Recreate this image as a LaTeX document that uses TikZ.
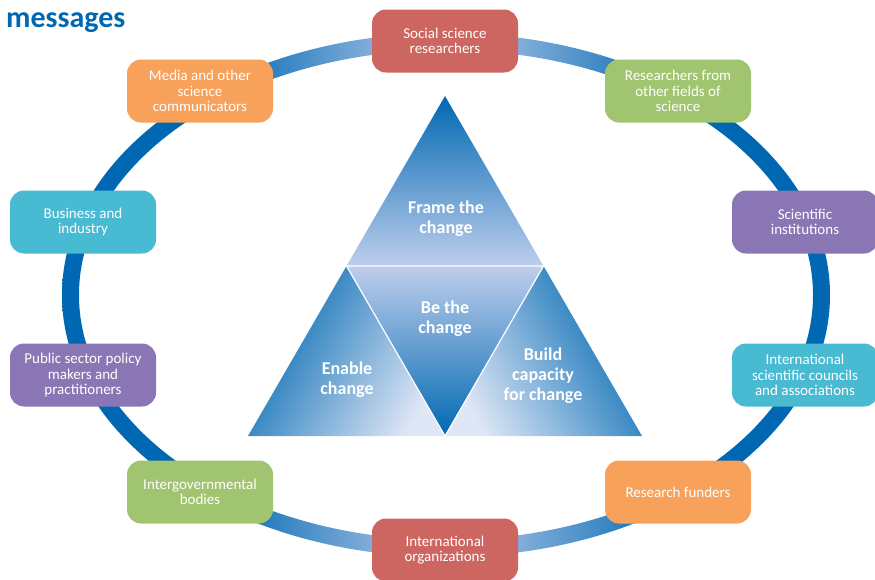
\documentclass[tikz,border=0pt]{standalone}
\usepackage{fontspec}
\setmainfont{Carlito}
\usetikzlibrary{positioning, calc}
\definecolor{ringBlue}{RGB}{0, 104, 178}
\definecolor{paleBlue}{RGB}{190, 206, 236}
\definecolor{boxRed}{RGB}{205, 101, 96}
\definecolor{boxGreen}{RGB}{160, 196, 112}
\definecolor{boxPurple}{RGB}{138, 118, 180}
\definecolor{boxCyan}{RGB}{72, 186, 210}
\definecolor{boxOrange}{RGB}{247, 161, 90}
% the path's box covers 25bp to 75bp of the shading
\pgfdeclarehorizontalshading{ringshade}{100bp}{color(0bp)=(ringBlue); color(35bp)=(ringBlue); color(50bp)=(paleBlue); color(65bp)=(ringBlue); color(100bp)=(ringBlue)}

\begin{document}
\begin{tikzpicture}[
            x=1pt, y=-1pt,
            % Stakeholder boxes round the ring
            group/.style={
                rectangle,
                rounded corners=14pt,
                minimum width=146pt,
                minimum height=63pt,
                inner sep=2pt,
                text=white,
                align=center,
                font=\fontsize{15}{15.5}\selectfont
            },
            % Labels inside the triangle
            trilabel/.style={
                text=white,
                align=center,
                font=\fontsize{18}{20}\selectfont\bfseries
            }
        ]
        \useasboundingbox (0,0) rectangle (875,579);

        % --- Title ---
        \node [anchor=base west, inner sep=0pt, text=ringBlue,
               font=\fontsize{30}{30}\selectfont\bfseries] (title) at (6,27) {messages};

        % --- Ring ---
        \shade [shading=ringshade, even odd rule]
            (446,295) ellipse [x radius=384, y radius=262]
            (446,295) ellipse [x radius=367, y radius=245];

        % --- Triangle ---
        \coordinate (apex) at (445,96);
        \coordinate (baseL) at (248,436);
        \coordinate (baseR) at (642,436);
        \coordinate (midL) at ($(apex)!0.5!(baseL)$);
        \coordinate (midR) at ($(apex)!0.5!(baseR)$);
        \coordinate (baseM) at ($(baseL)!0.5!(baseR)$);

        \shade [top color=ringBlue, bottom color=paleBlue] (apex) -- (midL) -- (midR) -- cycle;
        \shade [top color=paleBlue, bottom color=ringBlue] (midL) -- (midR) -- (baseM) -- cycle;
        \shade [top color=ringBlue, bottom color=paleBlue!50!white, shading angle=60] (midL) -- (baseM) -- (baseL) -- cycle;
        \shade [top color=ringBlue, bottom color=paleBlue!50!white, shading angle=-60] (midR) -- (baseR) -- (baseM) -- cycle;
        \draw [white, line width=1.2pt] (midL) -- (midR) -- (baseM) -- cycle;

        \node [trilabel] (frame) at (446,219) {Frame the\\change};
        \node [trilabel] (bethe) at (445,319) {Be the\\change};
        \node [trilabel] (enable) at (347,380) {Enable\\change};
        \node [trilabel] (build) at (543,376) {Build\\capacity\\for change};

        % --- Nodes ---
        \node [group, fill=boxRed] (social) at (445,41) {Social science\\researchers};
        \node [group, fill=boxGreen] (otherfields) at (678,91) {Researchers from\\other fields of\\science};
        \node [group, fill=boxPurple] (institutions) at (805,222) {Scientific\\institutions};
        \node [group, fill=boxCyan] (councils) at (805,375) {International\\scientific councils\\and associations};
        \node [group, fill=boxOrange] (funders) at (678,492) {Research funders};
        \node [group, fill=boxRed] (intorgs) at (445,550) {International\\organizations};
        \node [group, fill=boxGreen] (intergov) at (200,492) {Intergovernmental\\bodies};
        \node [group, fill=boxPurple] (publicsector) at (83,375) {Public sector policy\\makers and\\practitioners};
        \node [group, fill=boxCyan] (business) at (83,222) {Business and\\industry};
        \node [group, fill=boxOrange] (media) at (200,91) {Media and other\\science\\communicators};

        \end{tikzpicture}
\end{document}
